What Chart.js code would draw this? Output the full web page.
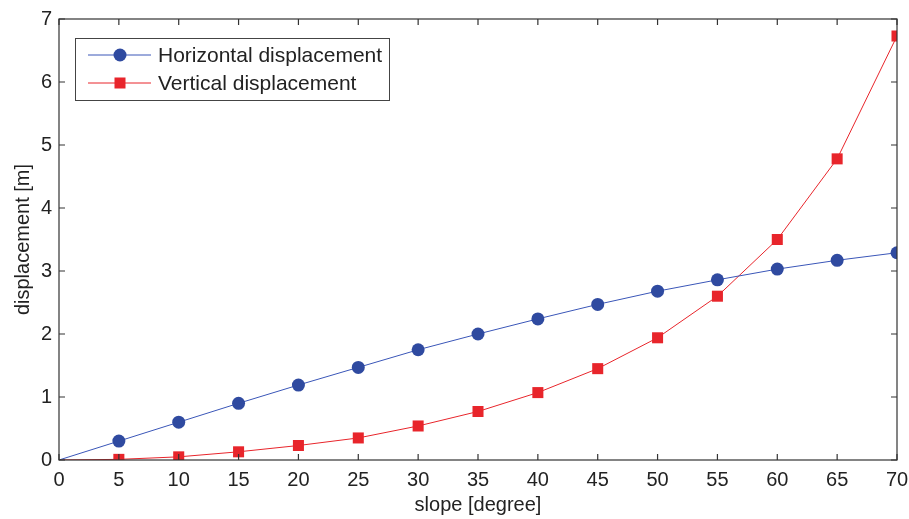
<!DOCTYPE html>
<html><head><meta charset="utf-8">
<script src="https://cdn.jsdelivr.net/npm/chart.js@4.4.1/dist/chart.umd.min.js"></script>
<style>html,body{margin:0;padding:0;background:#fff}#wrap{width:909px;height:519px}</style>
</head><body><div id="wrap"><canvas id="c" width="909" height="519"></canvas></div>
<script>
const slopes = [0,5,10,15,20,25,30,35,40,45,50,55,60,65,70];
const horizontal = [0,0.30,0.60,0.90,1.19,1.47,1.75,2.00,2.24,2.47,2.68,2.86,3.03,3.17,3.29];
const vertical = [0,0.01,0.05,0.13,0.23,0.35,0.54,0.77,1.07,1.45,1.94,2.60,3.50,4.78,6.73];
const seriesLabels = ['Horizontal displacement','Vertical displacement'];
const xTitle = 'slope [degree]';
const yTitle = 'displacement [m]';

const BLUE = '#2f4aa0', BLUE_LINE = '#3a56b8', RED = '#e8252b';
const AX = '#333333';
const FONT = 'Liberation Sans, Arial, sans-serif';

const frame = {
  id: 'frame',
  afterDatasetsDraw(chart) {
    const {ctx, chartArea: a, scales} = chart;
    ctx.save();
    ctx.strokeStyle = AX; ctx.lineWidth = 1.2;
    ctx.strokeRect(a.left, a.top, a.right - a.left, a.bottom - a.top);
    const tl = 6;
    ctx.beginPath();
    scales.x.ticks.forEach(t => {
      const px = scales.x.getPixelForValue(t.value);
      ctx.moveTo(px, a.bottom); ctx.lineTo(px, a.bottom - tl);
      ctx.moveTo(px, a.top); ctx.lineTo(px, a.top + tl);
    });
    scales.y.ticks.forEach(t => {
      const py = scales.y.getPixelForValue(t.value);
      ctx.moveTo(a.left, py); ctx.lineTo(a.left + tl, py);
      ctx.moveTo(a.right, py); ctx.lineTo(a.right - tl, py);
    });
    ctx.stroke();
    // legend
    const lx = 75, ly = 38, lw = 314, lh = 62;
    ctx.fillStyle = '#fff';
    ctx.fillRect(lx, ly, lw, lh);
    ctx.strokeStyle = '#444'; ctx.lineWidth = 1;
    ctx.strokeRect(lx + 0.5, ly + 0.5, lw, lh);
    const rows = [55, 83];
    chart.data.datasets.forEach((ds, i) => {
      const y = rows[i];
      ctx.strokeStyle = ds.borderColor; ctx.lineWidth = 1;
      ctx.beginPath(); ctx.moveTo(88, y); ctx.lineTo(151, y); ctx.stroke();
      ctx.fillStyle = ds.pointBackgroundColor;
      if (ds.pointStyle === 'circle') { ctx.beginPath(); ctx.arc(120, y, 6.5, 0, Math.PI * 2); ctx.fill(); }
      else { ctx.fillRect(114.5, y - 5.5, 11, 11); }
      ctx.fillStyle = '#222';
      ctx.font = '21px ' + FONT;
      ctx.textBaseline = 'middle'; ctx.textAlign = 'left';
      ctx.fillText(ds.label, 158, y + 1);
    });
    ctx.restore();
  }
};

new Chart(document.getElementById('c'), {
  type: 'line',
  data: {
    datasets: [
      { label: seriesLabels[0], data: slopes.map((s, i) => ({x: s, y: horizontal[i]})),
        borderColor: BLUE_LINE, borderWidth: 1, pointStyle: 'circle',
        pointRadius: c => c.dataIndex === 0 ? 0 : 6.5, pointBackgroundColor: BLUE, pointBorderColor: BLUE, pointBorderWidth: 0 },
      { label: seriesLabels[1], data: slopes.map((s, i) => ({x: s, y: vertical[i]})),
        borderColor: RED, borderWidth: 1, pointStyle: 'rect',
        pointRadius: c => c.dataIndex === 0 ? 0 : 7.8, pointBackgroundColor: RED, pointBorderColor: RED, pointBorderWidth: 0 }
    ]
  },
  options: {
    responsive: false, animation: false,
    layout: { padding: { top: 19, right: 2, left: 0, bottom: 0 } },
    plugins: { legend: { display: false }, tooltip: { enabled: false } },
    scales: {
      x: { type: 'linear', min: 0, max: 70,
        afterFit(s) { s.height = 59; s.paddingRight = 12; },
        grid: { display: false, drawTicks: false }, border: { display: false },
        ticks: { stepSize: 5, color: '#222', padding: 8, font: { family: FONT, size: 20 }, maxRotation: 0 },
        title: { display: true, text: xTitle, color: '#222', font: { family: FONT, size: 20 }, padding: { top: 0, bottom: 2 } } },
      y: { type: 'linear', min: 0, max: 7,
        afterFit(s) { s.width = 59; },
        grid: { display: false, drawTicks: false }, border: { display: false },
        ticks: { stepSize: 1, color: '#222', padding: 7, font: { family: FONT, size: 20 } },
        title: { display: true, text: yTitle, color: '#222', font: { family: FONT, size: 20 }, padding: { top: 11, bottom: 0 } } }
    }
  },
  plugins: [frame]
});
</script></body></html>
